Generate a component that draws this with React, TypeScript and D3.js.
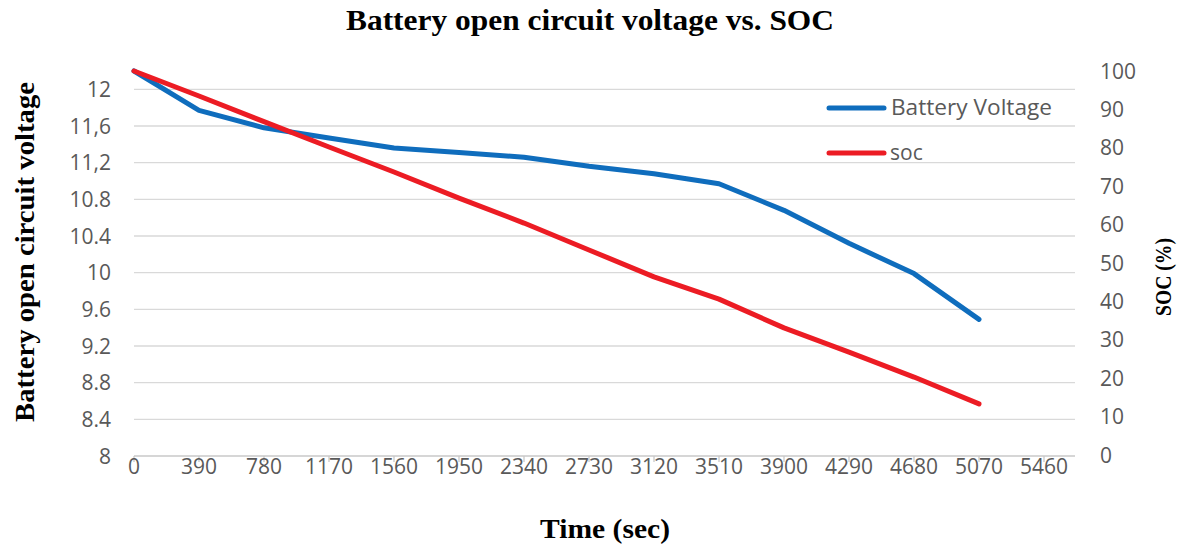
import React from "react";
import * as d3 from "d3";

const timeSec = [0, 390, 780, 1170, 1560, 1950, 2340, 2730, 3120, 3510, 3900, 4290, 4680, 5070];
const batteryVoltage = [12.2, 11.77, 11.58, 11.47, 11.36, 11.31, 11.26, 11.16, 11.08, 10.97, 10.68, 10.32, 9.99, 9.49];
const socPercent = [100, 93.5, 86.8, 80.2, 73.7, 66.9, 60.4, 53.4, 46.4, 40.6, 33.1, 26.8, 20.3, 13.3];

const xTicks = [0, 390, 780, 1170, 1560, 1950, 2340, 2730, 3120, 3510, 3900, 4290, 4680, 5070, 5460];
const leftTicks = [8, 8.4, 8.8, 9.2, 9.6, 10, 10.4, 10.8, 11.2, 11.6, 12];
const leftTickLabels = ["8", "8.4", "8.8", "9.2", "9.6", "10", "10.4", "10.8", "11,2", "11,6", "12"];
const rightTicks = [0, 10, 20, 30, 40, 50, 60, 70, 80, 90, 100];

const W = 1179;
const H = 545;
const plotLeft = 134;
const plotRight = 1075;
const plotTop = 71;
const plotBottom = 456;
const xMax = 5646;

const BLUE = "#0F6DBD";
const RED = "#EC1C24";
const TICK_COLOR = "#595959";
const SANS = "'Open Sans', 'Liberation Sans', sans-serif";
const SERIF = "'Liberation Serif', 'Times New Roman', serif";

export default function App() {
  const x = d3.scaleLinear().domain([0, xMax]).range([plotLeft, plotRight]);
  const yL = d3.scaleLinear().domain([8, 12.2]).range([plotBottom, plotTop]);
  const yR = d3.scaleLinear().domain([0, 100]).range([plotBottom - 1, plotTop]);

  const voltLine = d3
    .line<number>()
    .x((_, i) => x(timeSec[i]))
    .y((d) => yL(d))(batteryVoltage) as string;
  const socLine = d3
    .line<number>()
    .x((_, i) => x(timeSec[i]))
    .y((d) => yR(d))(socPercent) as string;

  return (
    <svg width={W} height={H} style={{ position: "absolute", left: 0, top: 0, background: "#fff" }}>
      <rect x={0} y={0} width={W} height={H} fill="#fff" />
      <text
        x={590}
        y={30}
        textAnchor="middle"
        fontFamily={SERIF}
        fontWeight="bold"
        fontSize={29}
        textLength={488}
        lengthAdjust="spacingAndGlyphs"
        fill="#000"
      >
        Battery open circuit voltage vs. SOC
      </text>

      {leftTicks.slice(1).map((t) => (
        <line key={"g" + t} x1={plotLeft} x2={plotRight} y1={yL(t)} y2={yL(t)} stroke="#D9D9D9" strokeWidth={1.3} />
      ))}
      <line x1={plotLeft} x2={plotRight} y1={plotBottom} y2={plotBottom} stroke="#C8C8C8" strokeWidth={1.3} />
      {xTicks.map((t) => (
        <line key={"xt" + t} x1={x(t)} x2={x(t)} y1={plotBottom} y2={plotBottom + 6} stroke="#C8C8C8" strokeWidth={1.3} />
      ))}

      {leftTicks.map((t, i) => (
        <text
          key={"lt" + t}
          x={111}
          y={yL(t)}
          dy="0.36em"
          textAnchor="end"
          fontFamily={SANS}
          fontSize={21}
          fill={TICK_COLOR}
        >
          {leftTickLabels[i]}
        </text>
      ))}
      {rightTicks.map((t) => (
        <text
          key={"rt" + t}
          x={1100}
          y={yR(t)}
          dy="0.36em"
          textAnchor="start"
          fontFamily={SANS}
          fontSize={21}
          fill={TICK_COLOR}
        >
          {t}
        </text>
      ))}
      {xTicks.map((t) => (
        <text
          key={"xl" + t}
          x={x(t)}
          y={466}
          dy="0.36em"
          textAnchor="middle"
          fontFamily={SANS}
          fontSize={21}
          fill={TICK_COLOR}
        >
          {t}
        </text>
      ))}

      <path d={voltLine} fill="none" stroke={BLUE} strokeWidth={5} strokeLinecap="round" strokeLinejoin="round" />
      <path d={socLine} fill="none" stroke={RED} strokeWidth={5} strokeLinecap="round" strokeLinejoin="round" />

      <line x1={829} x2={884} y1={108} y2={108} stroke={BLUE} strokeWidth={5} strokeLinecap="round" />
      <text x={891} y={115} fontFamily={SANS} fontSize={21} textLength={161} lengthAdjust="spacingAndGlyphs" fill={TICK_COLOR}>
        Battery Voltage
      </text>
      <line x1={829} x2={884} y1={153} y2={153} stroke={RED} strokeWidth={5} strokeLinecap="round" />
      <text x={890} y={160} fontFamily={SANS} fontSize={21} fill={TICK_COLOR}>
        soc
      </text>

      <text
        transform="translate(34,252) rotate(-90)"
        textAnchor="middle"
        fontFamily={SERIF}
        fontWeight="bold"
        fontSize={27}
        textLength={340}
        lengthAdjust="spacingAndGlyphs"
        fill="#000"
      >
        Battery open circuit voltage
      </text>
      <text
        transform="translate(1171,277) rotate(-90)"
        textAnchor="middle"
        fontFamily={SERIF}
        fontWeight="bold"
        fontSize={23}
        textLength={78}
        lengthAdjust="spacingAndGlyphs"
        fill="#000"
      >
        SOC (%)
      </text>
      <text
        x={605}
        y={538}
        textAnchor="middle"
        fontFamily={SERIF}
        fontWeight="bold"
        fontSize={28}
        textLength={130}
        lengthAdjust="spacingAndGlyphs"
        fill="#000"
      >
        Time (sec)
      </text>
    </svg>
  );
}
